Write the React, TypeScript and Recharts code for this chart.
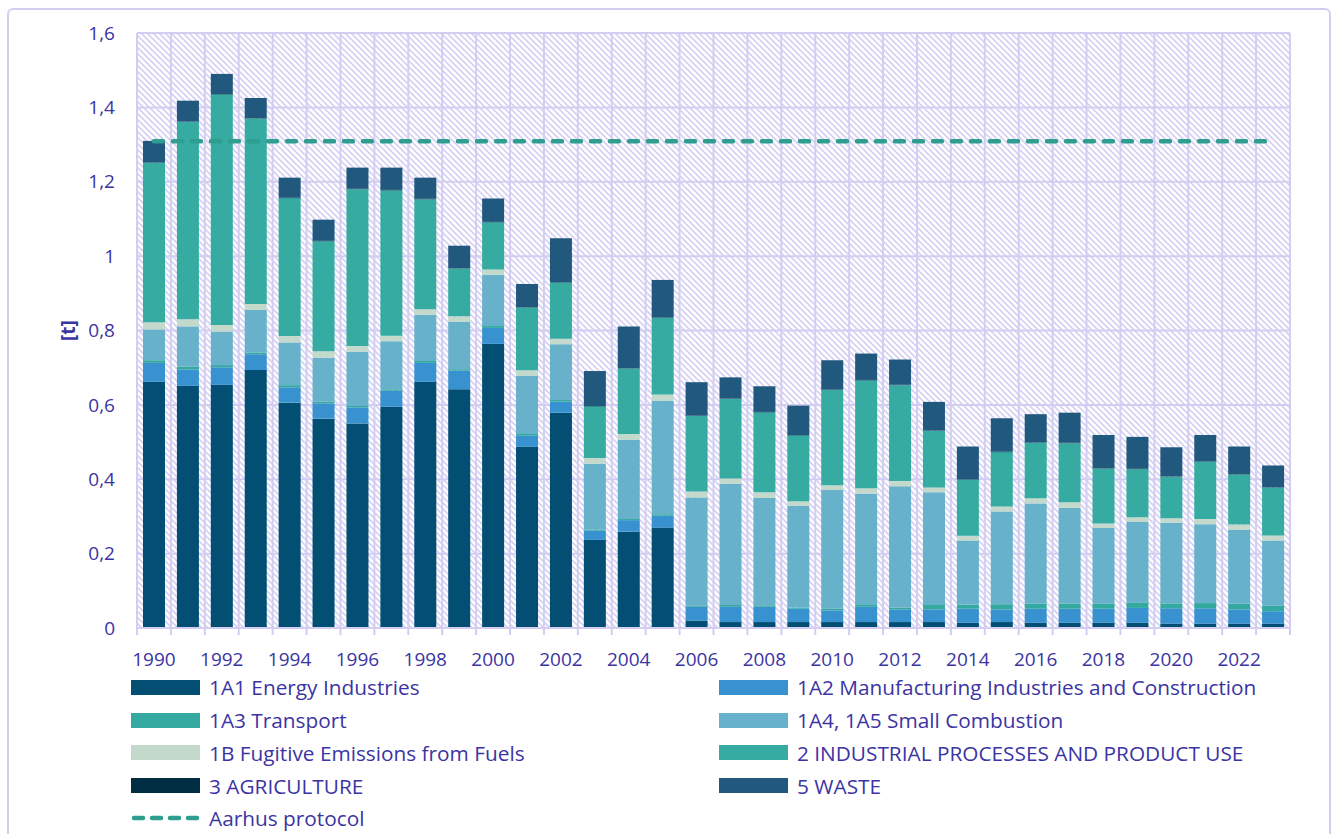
import React from 'react';
import { ComposedChart, Bar, Line, XAxis, YAxis, CartesianGrid } from 'recharts';

const years = [
  1990, 1991, 1992, 1993, 1994, 1995, 1996, 1997, 1998, 1999, 2000, 2001, 2002, 2003, 2004, 2005, 2006,
  2007, 2008, 2009, 2010, 2011, 2012, 2013, 2014, 2015, 2016, 2017, 2018, 2019, 2020, 2021, 2022, 2023,
];

const energyIndustries = [
  0.662, 0.651, 0.654, 0.694, 0.606, 0.563, 0.55, 0.595, 0.662, 0.642, 0.764, 0.487, 0.579, 0.237, 0.259, 0.27, 0.02,
  0.016, 0.016, 0.016, 0.016, 0.016, 0.016, 0.016, 0.014, 0.016, 0.014, 0.014, 0.014, 0.014, 0.012, 0.012, 0.012, 0.012,
];
const manufacturing = [
  0.051, 0.044, 0.047, 0.042, 0.041, 0.041, 0.043, 0.043, 0.051, 0.05, 0.043, 0.03, 0.03, 0.025, 0.031, 0.032, 0.037,
  0.041, 0.041, 0.036, 0.031, 0.041, 0.034, 0.034, 0.038, 0.034, 0.038, 0.038, 0.038, 0.04, 0.041, 0.041, 0.038, 0.033,
];
const transport = [
  0.007, 0.008, 0.006, 0.005, 0.006, 0.005, 0.004, 0.004, 0.005, 0.004, 0.005, 0.005, 0.004, 0.003, 0.003, 0.004, 0.003,
  0.005, 0.004, 0.003, 0.005, 0.005, 0.005, 0.012, 0.011, 0.014, 0.013, 0.013, 0.014, 0.015, 0.013, 0.014, 0.015, 0.015,
];
const smallCombustion = [
  0.083, 0.108, 0.09, 0.114, 0.115, 0.118, 0.146, 0.129, 0.124, 0.127, 0.137, 0.156, 0.15, 0.177, 0.213, 0.305, 0.291,
  0.326, 0.289, 0.274, 0.319, 0.299, 0.326, 0.303, 0.172, 0.249, 0.27, 0.258, 0.203, 0.216, 0.217, 0.212, 0.199, 0.175,
];
const fugitive = [
  0.019, 0.019, 0.018, 0.016, 0.017, 0.017, 0.015, 0.015, 0.015, 0.015, 0.015, 0.015, 0.015, 0.015, 0.016, 0.017, 0.016,
  0.014, 0.015, 0.012, 0.013, 0.015, 0.014, 0.013, 0.013, 0.014, 0.014, 0.015, 0.012, 0.013, 0.012, 0.014, 0.014, 0.014,
];
const industrial = [
  0.429, 0.531, 0.62, 0.499, 0.371, 0.296, 0.422, 0.391, 0.296, 0.129, 0.127, 0.169, 0.151, 0.139, 0.176, 0.206, 0.203,
  0.214, 0.215, 0.177, 0.256, 0.29, 0.258, 0.152, 0.151, 0.146, 0.149, 0.159, 0.148, 0.129, 0.112, 0.154, 0.135, 0.129,
];
const agriculture = [
  0.001, 0.001, 0.001, 0.001, 0.001, 0.001, 0.001, 0.001, 0.001, 0.001, 0.001, 0.001, 0.001, 0.001, 0.001, 0.001, 0.001,
  0.001, 0.001, 0.001, 0.001, 0.001, 0.001, 0.001, 0.001, 0.001, 0.001, 0.001, 0.001, 0.001, 0.001, 0.001, 0.001, 0.001,
];
const waste = [
  0.058, 0.056, 0.054, 0.054, 0.054, 0.057, 0.057, 0.06, 0.057, 0.06, 0.063, 0.062, 0.118, 0.094, 0.112, 0.101, 0.09,
  0.057, 0.069, 0.079, 0.079, 0.071, 0.068, 0.077, 0.088, 0.09, 0.076, 0.081, 0.089, 0.086, 0.078, 0.071, 0.074, 0.058,
];
const aarhusLevel = 1.309;

const yTicks = [0, 0.2, 0.4, 0.6, 0.8, 1, 1.2, 1.4, 1.6];

const series = [
  { key: 'e1A1', name: '1A1 Energy Industries', color: '#024f73', values: energyIndustries },
  { key: 'e1A2', name: '1A2 Manufacturing Industries and Construction', color: '#3792cf', values: manufacturing },
  { key: 'e1A3', name: '1A3 Transport', color: '#33a9a0', values: transport },
  { key: 'e1A4', name: '1A4, 1A5 Small Combustion', color: '#67b1cb', values: smallCombustion },
  { key: 'e1B', name: '1B Fugitive Emissions from Fuels', color: '#c2d9cc', values: fugitive },
  { key: 'e2', name: '2 INDUSTRIAL PROCESSES AND PRODUCT USE', color: '#35aba1', values: industrial },
  { key: 'e3', name: '3 AGRICULTURE', color: '#012d42', values: agriculture },
  { key: 'e5', name: '5 WASTE', color: '#21587e', values: waste },
];

const TEXT = '#3b34a3';
const GRID = '#d3cef1';
const LINE = '#2f9d8f';
const FONT = '"Open Sans", sans-serif';

const data = years.map((year, i) => {
  const row: Record<string, number | string> = { year: String(year), aarhus: aarhusLevel };
  series.forEach((s) => {
    row[s.key] = s.values[i];
  });
  return row;
});

const fmt = (v: number) => String(Math.round(v * 10) / 10).replace('.', ',');

// year labels every other year, tick marks on the category boundaries
function YearTick(props: any) {
  const { x, y, payload, index } = props;
  const half = payload && payload.offset ? payload.offset : 17;
  const last = index === years.length - 1;
  return (
    <g>
      <line x1={x - half} y1={y} x2={x - half} y2={y + 7} stroke={GRID} strokeWidth={2} />
      {last && <line x1={x + half} y1={y} x2={x + half} y2={y + 7} stroke={GRID} strokeWidth={2} />}
      {index % 2 === 0 && (
        <text x={x} y={y + 38} textAnchor="middle" fill={TEXT} fontSize={19} fontFamily={FONT}>
          {payload.value}
        </text>
      )}
    </g>
  );
}

function YLabel(props: any) {
  const { viewBox } = props;
  const x = viewBox.x + 11;
  const y = viewBox.y + viewBox.height / 2;
  return (
    <text
      x={x}
      y={y}
      transform={`rotate(-90, ${x}, ${y})`}
      textAnchor="middle"
      dominantBaseline="central"
      fill={TEXT}
      fontSize={19}
      fontWeight={700}
      fontFamily={FONT}
    >
      [t]
    </text>
  );
}

const legendItems = [
  ...series.map((s) => ({ name: s.name, color: s.color, dashed: false })),
  { name: 'Aarhus protocol', color: LINE, dashed: true },
];

function Legend() {
  return (
    <div
      style={{
        position: 'absolute',
        left: 131,
        top: 671,
        display: 'grid',
        gridTemplateColumns: '588px 560px',
        gridAutoRows: '32.75px',
        fontFamily: FONT,
        fontSize: 20.8,
        color: TEXT,
      }}
    >
      {legendItems.map((it) => (
        <div key={it.name} style={{ display: 'flex', alignItems: 'center', whiteSpace: 'nowrap' }}>
          {it.dashed ? (
            <svg width={70} height={16} style={{ marginRight: 8 }}>
              <line x1={3} y1={8} x2={67} y2={8} stroke={it.color} strokeWidth={4.5} strokeDasharray="9 9" strokeLinecap="round" />
            </svg>
          ) : (
            <div style={{ width: 69, height: 15, background: it.color, marginRight: 9 }} />
          )}
          <span>{it.name}</span>
        </div>
      ))}
    </div>
  );
}

export default function App() {
  return (
    <div style={{ position: 'absolute', left: 0, top: 0, width: 1331, height: 834, overflow: 'hidden', background: '#fff' }}>
      <div
        style={{
          position: 'absolute',
          left: 7,
          top: 8,
          width: 1320,
          height: 840,
          border: `2px solid ${GRID}`,
          borderRadius: 6,
        }}
      />
      <div style={{ position: 'absolute', left: 0, top: 0 }}>
        <ComposedChart
          width={1331}
          height={834}
          data={data}
          margin={{ top: 33, right: 41, left: 57, bottom: 205 }}
          barSize={22}
        >
          <defs>
            <pattern id="hatch" width="6" height="6" patternUnits="userSpaceOnUse">
              <rect width="6" height="6" fill="#ffffff" />
              <path d="M-1,-1 L7,7 M-1,5 L1,7 M5,-1 L7,1" stroke="#d5d0f4" strokeWidth={1.6} />
            </pattern>
          </defs>
          <CartesianGrid
            stroke={GRID}
            strokeWidth={2}
            fill="url(#hatch)"
            fillOpacity={1}
            verticalCoordinatesGenerator={({ offset }: any) =>
              years.map((_, i) => offset.left + (i * offset.width) / years.length).concat([offset.left + offset.width])
            }
          />
          <XAxis
            dataKey="year"
            interval={0}
            height={1}
            tickLine={false}
            tickSize={0}
            tickMargin={0}
            axisLine={{ stroke: GRID, strokeWidth: 2 }}
            tick={<YearTick />}
          />
          <YAxis
            width={80}
            domain={[0, 1.6]}
            ticks={yTicks}
            tickFormatter={fmt}
            axisLine={false}
            tickLine={false}
            tickMargin={16}
            tick={{ fill: TEXT, fontSize: 19, fontFamily: FONT }}
            label={<YLabel />}
          />
          {series.map((s) => (
            <Bar key={s.key} dataKey={s.key} name={s.name} stackId="a" fill={s.color} isAnimationActive={false} />
          ))}
          <Line
            dataKey="aarhus"
            name="Aarhus protocol"
            stroke={LINE}
            strokeWidth={4.5}
            strokeDasharray="9 10"
            strokeLinecap="round"
            dot={false}
            activeDot={false}
            isAnimationActive={false}
          />
        </ComposedChart>
      </div>
      <Legend />
    </div>
  );
}
